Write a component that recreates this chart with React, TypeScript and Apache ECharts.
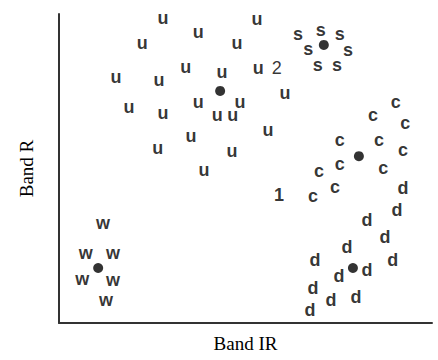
import React, { useEffect, useRef } from "react";
import * as echarts from "echarts";

// Band IR (x) and Band R (y) values, 0–100 scale
const uPoints: number[][] = [
  [27.9, 98.7], [53.1, 98.4], [37.3, 94.2], [22.3, 90.6], [47.7, 90.6],
  [34.0, 82.8], [43.7, 81.2], [53.4, 82.5], [15.3, 79.6], [26.8, 78.6],
  [60.6, 74.4], [18.8, 69.9], [27.9, 68.0], [37.3, 71.5], [42.4, 67.3],
  [46.6, 67.3], [48.5, 71.5], [56.0, 62.5], [35.4, 60.5], [26.5, 56.6],
  [46.4, 55.7], [38.9, 49.5],
];
const sPoints: number[][] = [
  [64.1, 93.5], [70.2, 94.8], [75.3, 93.5], [66.8, 88.7], [77.5, 88.3],
  [69.4, 83.5], [74.5, 83.5],
];
const cPoints: number[][] = [
  [90.3, 71.5], [84.2, 67.3], [92.8, 64.7], [75.3, 59.2], [85.8, 59.2],
  [92.2, 56.0], [75.3, 51.5], [86.9, 50.2], [69.7, 49.2], [74.0, 44.0],
  [68.1, 41.1],
];
const dPoints: number[][] = [
  [92.2, 43.7], [90.6, 36.6], [82.6, 33.3], [87.4, 27.8], [77.2, 24.6],
  [89.5, 20.4], [68.6, 20.4], [82.6, 17.2], [75.1, 15.2], [68.1, 11.3],
  [72.9, 7.4], [79.6, 8.4], [67.3, 4.2],
];
const wPoints: number[][] = [
  [11.8, 32.4], [7.2, 22.7], [14.5, 22.7], [6.2, 14.2], [14.5, 13.9],
  [12.6, 7.4],
];
const centers: number[][] = [
  [43.2, 75.1], [71.0, 90.0], [80.4, 54.0], [78.8, 17.8], [10.5, 17.8],
];
const unknownPoints: { name: string; value: number[]; weight: string }[] = [
  { name: "1", value: [59.0, 41.4], weight: "bold" },
  { name: "2", value: [58.4, 82.5], weight: "normal" },
];
const classes: { name: string; points: number[][] }[] = [
  { name: "u", points: uPoints },
  { name: "s", points: sPoints },
  { name: "c", points: cPoints },
  { name: "d", points: dPoints },
  { name: "w", points: wPoints },
];

export default function App() {
  const ref = useRef<HTMLDivElement>(null);
  useEffect(() => {
    document.body.style.margin = "0";
    if (!ref.current) return;
    const chart = echarts.init(ref.current, undefined, { renderer: "svg" });
    const letterFont = {
      show: true,
      position: ["50%", "50%"],
      align: "center",
      verticalAlign: "middle",
      color: "#000",
      fontFamily: "Liberation Sans, Arial, sans-serif",
      fontWeight: "bold",
      fontSize: 18,
    };
    const series: any[] = classes.map((cl) => ({
      type: "scatter",
      name: cl.name,
      data: cl.points,
      symbol: "circle",
      symbolSize: 0.1,
      itemStyle: { color: "#000" },
      label: { ...letterFont, formatter: () => cl.name },
      emphasis: { disabled: true },
      silent: true,
    }));
    series.push({
      type: "scatter",
      name: "unknown",
      data: unknownPoints.map((p) => ({
        name: p.name,
        value: p.value,
        label: { fontWeight: p.weight },
      })),
      symbol: "circle",
      symbolSize: 0.1,
      itemStyle: { color: "#000" },
      label: {
        ...letterFont,
        formatter: (p: any) => p.name,
      },
      silent: true,
    });
    series.push({
      type: "scatter",
      name: "centers",
      data: centers,
      symbol: "circle",
      symbolSize: 10,
      itemStyle: { color: "#000" },
      silent: true,
      z: 3,
    });
    const nameFont = {
      fontFamily: "Liberation Serif, Times New Roman, serif",
      fontSize: 19,
      color: "#000",
    };
    chart.setOption({
      animation: false,
      grid: { left: 59, right: 6, top: 14, bottom: 37 },
      xAxis: {
        type: "value",
        min: 0,
        max: 100,
        name: "Band IR",
        nameLocation: "middle",
        nameGap: 11,
        nameTextStyle: { ...nameFont, verticalAlign: "top" },
        axisLine: { show: true, lineStyle: { color: "#333", width: 2 } },
        axisTick: { show: false },
        axisLabel: { show: false },
        splitLine: { show: false },
      },
      yAxis: {
        type: "value",
        min: 0,
        max: 100,
        name: "Band R",
        nameLocation: "middle",
        nameGap: 23,
        nameTextStyle: nameFont,
        axisLine: { show: true, lineStyle: { color: "#333", width: 2 } },
        axisTick: { show: false },
        axisLabel: { show: false },
        splitLine: { show: false },
      },
      series,
    });
    return () => chart.dispose();
  }, []);
  return <div ref={ref} style={{ width: 438, height: 360 }} />;
}
